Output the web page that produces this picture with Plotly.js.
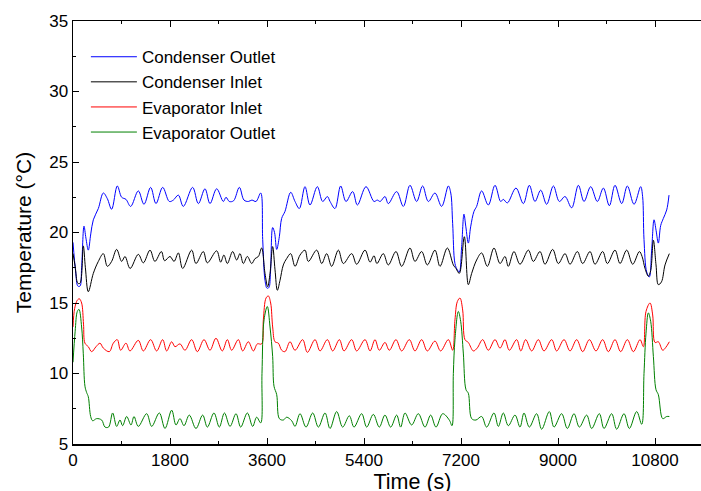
<!DOCTYPE html>
<html>
<head>
<meta charset="utf-8">
<script src="https://cdn.plot.ly/plotly-3.0.1.min.js"></script>
<style>
html,body{margin:0;padding:0;overflow:hidden;background:#fff;width:701px;height:491px;}
#chart{width:752px;height:500px;}
</style>
</head>
<body>
<div id="chart"></div>
<script>
// Condenser Outlet (blue)
const tCondOut = [0,50,90,130,160,204,240,284,330,377,470,563,637,717,822,903,983,1070,1212,1317,1441,1540,1664,1787,1862,1955,2047,2220,2326,2449,2542,2666,2790,2839,2900,2980,3087,3173,3254,3320,3396,3483,3520,3563,3600,3635,3665,3705,3740,3780,3829,3872,3934,4040,4120,4200,4305,4398,4534,4633,4720,4770,4862,4967,5066,5190,5277,5437,5586,5647,5700,5789,5851,6006,6130,6253,6377,6488,6594,6717,6841,6965,7010,7045,7088,7132,7169,7212,7255,7290,7336,7379,7441,7490,7583,7707,7831,7936,7985,8060,8220,8357,8468,8573,8679,8790,8914,9025,9130,9254,9378,9483,9607,9730,9842,9953,10058,10182,10287,10411,10534,10570,10596,10646,10695,10738,10782,10820,10862,10906,10955,11017,11060];
const condOut = [19.3,17.2,16.2,16.2,17.5,20.45,19.6,18.75,19.9,20.9,21.7,22.8,22.4,21.65,23.3,22.5,22.35,21.85,22.95,22.0,23.2,22.05,23.2,22.2,22.3,22.65,21.85,23.2,22.05,23.1,22.05,23.1,22.2,22.5,22.2,22.25,23.2,22.3,22.2,22.3,22.2,22.8,19.5,16.6,16.05,16.1,17.2,20.35,20.0,18.8,19.7,21.0,21.5,22.85,22.2,21.7,23.25,21.95,23.25,22.2,22.55,22.2,21.7,23.3,22.2,22.9,21.95,23.25,22.2,22.3,22.2,22.55,22.05,22.9,21.85,23.35,22.2,23.3,22.2,22.8,21.85,23.3,22.8,20.65,17.8,17.35,17.2,19.0,21.3,20.4,19.25,20.4,21.5,21.85,22.95,21.95,23.35,22.2,22.35,22.1,23.15,22.05,23.35,22.2,23.0,22.0,23.3,22.2,22.55,21.75,23.35,22.2,23.25,22.2,23.15,21.9,23.35,22.05,23.3,22.0,23.25,22.55,19.5,17.2,16.85,18.75,20.9,20.15,19.25,20.5,21.0,21.6,22.65];

// Condenser Inlet (black)
const tCondIn = [0,40,90,130,191,230,284,377,470,563,637,717,810,903,965,1060,1212,1305,1429,1520,1640,1700,1800,1875,1955,2035,2202,2282,2418,2492,2666,2740,2800,2864,2963,3037,3099,3161,3235,3316,3378,3440,3501,3563,3613,3656,3705,3749,3792,3841,3903,3965,4040,4120,4213,4305,4367,4522,4615,4708,4800,4924,5017,5171,5264,5419,5512,5586,5640,5758,5851,5993,6099,6253,6346,6470,6575,6717,6810,6946,7058,7107,7169,7262,7336,7398,7490,7583,7689,7812,7924,8016,8078,8183,8295,8450,8542,8666,8759,8901,9006,9130,9223,9359,9458,9594,9687,9829,9916,10058,10151,10275,10386,10510,10560,10615,10677,10720,10770,10819,10862,10920,10986,11066];
const condIn = [18.5,17.6,16.4,16.4,19.05,17.5,15.8,17.1,17.95,18.5,17.6,17.95,18.8,17.95,18.3,17.45,18.45,17.85,18.75,17.95,18.65,18.0,18.3,17.95,18.55,17.45,18.75,17.8,18.65,17.85,18.7,17.9,18.4,17.8,18.65,18.05,18.5,17.8,18.3,17.8,18.15,18.3,18.9,17.1,16.15,17.1,19.0,17.35,15.9,16.6,17.7,18.15,18.5,17.6,18.4,18.75,17.95,18.75,17.8,18.5,17.6,18.75,17.8,18.5,17.75,18.75,17.9,18.35,17.8,18.5,17.7,18.65,17.6,18.9,17.95,18.65,17.7,18.75,17.6,18.9,17.7,17.45,17.1,19.7,16.3,17.1,18.05,18.55,17.6,18.9,17.8,18.3,17.6,18.65,17.75,18.75,17.95,18.65,17.75,18.8,17.8,18.5,17.75,18.65,17.8,18.65,17.75,18.65,17.8,18.75,17.8,18.75,17.75,18.65,18.3,17.45,16.9,17.3,19.45,17.7,16.3,16.5,17.7,18.5];

// Evaporator Inlet (red)
const tEvapIn = [0,30,80,117,160,195,222,284,346,427,501,563,674,748,822,884,983,1057,1212,1305,1441,1552,1664,1738,1831,1893,1985,2078,2202,2307,2431,2542,2653,2770,2864,2944,3068,3149,3254,3347,3421,3501,3532,3582,3625,3668,3705,3749,3811,3872,3934,4027,4120,4262,4349,4491,4584,4720,4819,4943,5029,5171,5264,5419,5512,5604,5684,5789,5870,5993,6099,6241,6346,6470,6575,6717,6822,6965,7045,7088,7132,7181,7231,7274,7336,7429,7500,7602,7707,7831,7924,8016,8097,8233,8310,8400,8512,8635,8740,8883,8975,9112,9223,9347,9458,9582,9705,9829,9934,10058,10163,10287,10398,10522,10584,10633,10708,10757,10800,10862,10943,11000,11066];
const evapIn = [13.3,14.6,15.2,15.3,15.0,13.5,12.15,11.9,11.55,11.9,12.15,11.8,11.55,12.15,12.4,11.65,12.15,11.6,12.35,11.6,12.4,11.6,12.4,11.6,12.25,11.9,12.1,11.65,12.4,11.55,12.4,11.65,12.5,11.6,12.4,11.65,12.4,11.6,12.25,11.6,12.1,12.1,13.8,15.35,15.5,15.0,13.3,12.25,12.15,11.65,11.55,12.25,11.65,12.4,11.5,12.4,11.6,12.4,11.6,12.4,11.6,12.4,11.6,12.4,11.6,12.4,11.65,12.2,11.65,12.4,11.6,12.4,11.6,12.4,11.6,12.3,11.6,12.4,11.65,13.8,15.1,15.35,14.5,12.4,12.2,11.6,11.8,12.4,11.65,12.4,11.8,12.4,11.65,12.4,11.6,12.4,11.6,12.4,11.6,12.4,11.6,12.4,11.6,12.4,11.55,12.4,11.6,12.4,11.55,12.4,11.55,12.4,11.55,12.4,11.9,14.4,15.0,14.15,12.2,12.25,11.65,11.85,12.25];

// Evaporator Outlet (green)
const tEvapOut = [0,40,80,111,160,191,222,253,284,328,365,439,532,594,660,736,810,872,921,996,1076,1132,1212,1367,1460,1602,1707,1831,1911,1985,2060,2158,2282,2406,2493,2616,2715,2810,2914,3025,3112,3235,3334,3408,3483,3507,3545,3606,3656,3705,3730,3780,3829,3903,3965,4058,4120,4213,4324,4448,4553,4677,4769,4893,5004,5128,5215,5357,5450,5573,5684,5789,5895,6006,6080,6161,6284,6408,6532,6637,6736,6860,6983,7033,7058,7088,7150,7194,7243,7293,7336,7398,7478,7583,7676,7812,7893,7985,8078,8202,8295,8369,8468,8604,8697,8839,8926,9068,9173,9297,9396,9532,9625,9767,9854,9996,10089,10225,10324,10460,10553,10596,10633,10677,10720,10770,10819,10862,10943,11017,11066];
const evapOut = [10.8,13.0,14.4,14.55,13.3,11.4,9.1,8.65,8.35,6.95,6.65,6.8,6.7,6.2,6.2,7.2,6.25,6.7,6.3,6.95,6.35,6.95,6.25,7.15,6.25,7.2,6.1,7.4,6.35,6.8,6.3,7.05,6.1,7.05,6.2,7.2,6.2,7.2,6.25,7.15,6.2,7.2,6.25,6.9,6.5,10.0,13.8,14.75,13.3,11.2,9.1,8.5,6.8,6.7,6.9,6.65,6.25,7.15,6.2,7.2,6.2,7.2,6.1,7.3,6.2,7.0,6.2,7.15,6.2,7.1,6.2,7.05,6.2,7.05,6.2,7.2,6.35,7.15,6.2,7.05,6.2,7.15,6.7,6.3,10.0,12.4,14.4,13.7,11.45,8.85,8.6,6.8,6.7,6.95,6.2,7.2,6.25,7.2,6.3,7.05,6.2,7.2,6.2,7.15,6.05,7.3,6.2,7.15,6.1,7.15,6.2,7.05,6.1,7.15,6.1,7.15,6.05,7.15,6.1,7.3,6.4,10.0,12.85,14.3,13.7,11.2,8.85,8.5,6.8,6.95,6.95];

const seriesNames = ['Condenser Outlet','Condenser Inlet','Evaporator Inlet','Evaporator Outlet'];
const seriesColors = ['#0000ff','#000000','#ff0000','#008000'];
const xTickVals = [0,1800,3600,5400,7200,9000,10800];
const yTickVals = [5,10,15,20,25,30,35];

const xs = [tCondOut,tCondIn,tEvapIn,tEvapOut];
const ys = [condOut,condIn,evapIn,evapOut];

const traces = seriesNames.map((n,i)=>({
  x: xs[i], y: ys[i], name: n, type:'scatter', mode:'lines',
  line:{color:seriesColors[i], width:1, shape:'spline', smoothing:1.0}
}));

const FONT = 'Arial, "Liberation Sans", sans-serif';
const layout = {
  width: 752, height: 500,
  margin:{l:73, r:0, t:21, b:56},
  paper_bgcolor:'#fff', plot_bgcolor:'#fff',
  font:{family:FONT, color:'#000', size:17},
  showlegend:true,
  legend:{x:0.019, y:0.957, xanchor:'left', yanchor:'top', itemwidth:46, bgcolor:'rgba(0,0,0,0)', borderwidth:0, font:{family:FONT,size:17,color:'#000'}},
  xaxis:{
    range:[0,12600], tickmode:'array', tickvals:xTickVals, ticktext:xTickVals.map(String),
    ticks:'inside', ticklen:6, tickwidth:1, tickcolor:'#000',
    showline:true, linecolor:'#000', linewidth:1.5, mirror:'ticks',
    showgrid:false, zeroline:false,
    minor:{tickmode:'linear', tick0:0, dtick:900, ticks:'inside', ticklen:3, tickcolor:'#000', showgrid:false},
    tickfont:{family:FONT,size:17,color:'#000'},
    title:{text:'Time (s)', font:{family:FONT,size:21.5,color:'#000'}, standoff:1}
  },
  yaxis:{
    range:[5,35], tickmode:'array', tickvals:yTickVals, ticktext:yTickVals.map(String),
    ticks:'inside', ticklen:6, tickwidth:1, tickcolor:'#000',
    showline:true, linecolor:'#000', linewidth:1.5, mirror:'ticks',
    showgrid:false, zeroline:false,
    minor:{tickmode:'linear', tick0:5, dtick:2.5, ticks:'inside', ticklen:3, tickcolor:'#000', showgrid:false},
    tickfont:{family:FONT,size:17,color:'#000'},
    title:{text:'Temperature (°C)', font:{family:FONT,size:21,color:'#000'}, standoff:12}
  }
};
Plotly.newPlot('chart', traces, layout, {displayModeBar:false, staticPlot:true});
</script>
</body>
</html>
